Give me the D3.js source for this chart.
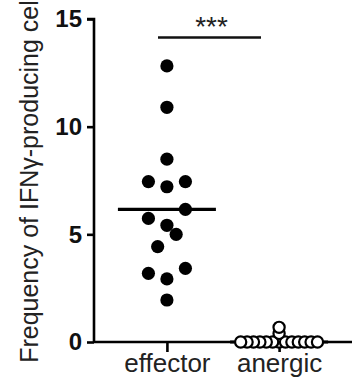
<!DOCTYPE html>
<html>
<head>
<meta charset="utf-8">
<script src="https://cdn.jsdelivr.net/npm/d3@7"></script>
<style>
  html, body { margin: 0; padding: 0; background: #fff; }
  svg { display: block; }
</style>
</head>
<body>
<div id="chart"></div>
<script>
// ---- data ----
const categories = ["effector", "anergic"];
const effectorValues = [12.82, 10.9, 8.49, 7.45, 7.21, 7.45, 6.16, 5.74, 5.42, 5.0, 4.43, 3.42, 3.19, 2.93, 1.95];
const anergicValues = [0, 0, 0, 0, 0, 0, 0, 0, 0, 0, 0, 0, 0, 0.4, 0.68];
const medians = [6.16, 0];
const yTicks = [0, 5, 10, 15];
const yTitle = "Frequency of IFNγ-producing cells";
const sigLabel = "***";

// ---- layout ----
const W = 361, H = 388;
const mLeft = 94, mRight = 352, mTop = 19, mBottom = 342;

const svg = d3.select("#chart").append("svg")
  .attr("width", W).attr("height", H);

const y = d3.scaleLinear().domain([0, 15]).range([mBottom, mTop]);
const x = d3.scalePoint().domain(categories).range([mLeft, mRight]).padding(0.65);

// GraphPad-like column scatter: group close values into rows, spread rows symmetrically
function swarm(values, spacing, bin) {
  const idx = values.map((v, i) => i).sort((a, b) => values[a] - values[b]);
  const off = new Array(values.length).fill(0);
  let g = [];
  const flush = () => {
    const n = g.length;
    const slots = d3.range(n).map(i => (i - (n - 1) / 2) * spacing)
      .sort((a, b) => Math.abs(a) - Math.abs(b) || a - b);
    g.forEach((k, j) => off[k] = slots[j]);
    g = [];
  };
  idx.forEach(k => {
    if (g.length && values[k] - values[g[0]] > bin) flush();
    g.push(k);
  });
  flush();
  return off;
}

const series = [
  { cat: "effector", values: effectorValues, spacing: 18.5, bin: 0.8, filled: true },
  { cat: "anergic", values: anergicValues, spacing: 6.4, bin: 0.25, filled: false }
];

// axes
const yAxis = d3.axisLeft(y).tickValues(yTicks).tickSize(7).tickPadding(5).tickFormat(d3.format("d"));
const gy = svg.append("g").attr("transform", `translate(${mLeft},0)`).call(yAxis);
gy.select(".domain").attr("d", `M-7,${mTop}H0V${mBottom}`);
gy.selectAll("path, line").attr("stroke", "#000").attr("stroke-width", 2.6);
gy.selectAll("text").attr("font-family", "Liberation Sans, Arial, sans-serif")
  .attr("font-weight", "bold").attr("font-size", 24).attr("fill", "#111");

const xAxis = d3.axisBottom(x).tickSize(10).tickPadding(4);
const gx = svg.append("g").attr("transform", `translate(0,${mBottom})`).call(xAxis);
gx.select(".domain").attr("d", `M${mLeft},0H${mRight}`);
gx.selectAll("path, line").attr("stroke", "#000").attr("stroke-width", 2.6);
gx.selectAll("text").attr("font-family", "Liberation Sans, Arial, sans-serif")
  .attr("font-size", 26).attr("fill", "#222").attr("dy", "0.62em");

// y title
svg.append("text")
  .attr("transform", `translate(38,${(mTop + mBottom) / 2 - 8}) rotate(-90)`)
  .attr("text-anchor", "middle")
  .attr("font-family", "Liberation Sans, Arial, sans-serif")
  .attr("font-size", 25).attr("fill", "#222")
  .text(yTitle);

// median lines
svg.selectAll("line.median").data(categories).enter().append("line")
  .attr("class", "median")
  .attr("x1", d => x(d) - 49).attr("x2", d => x(d) + 49)
  .attr("y1", (d, i) => y(medians[i])).attr("y2", (d, i) => y(medians[i]))
  .attr("stroke", "#000").attr("stroke-width", 3.2);

// points
series.forEach(s => {
  const off = swarm(s.values, s.spacing, s.bin);
  svg.append("g").selectAll("circle").data(s.values).enter().append("circle")
    .attr("cx", (d, i) => x(s.cat) + off[i])
    .attr("cy", d => y(d))
    .attr("r", s.filled ? 6.6 : 5.6)
    .attr("fill", s.filled ? "#000" : "#fff")
    .attr("stroke", "#000")
    .attr("stroke-width", s.filled ? 0 : 2.2);
});

// significance bar
const sx1 = 158, sx2 = 261, sy = 37.5;
svg.append("line").attr("x1", sx1).attr("x2", sx2).attr("y1", sy).attr("y2", sy)
  .attr("stroke", "#111").attr("stroke-width", 2.4);
svg.append("text").attr("x", (sx1 + sx2) / 2 + 2).attr("y", sy - 2)
  .attr("text-anchor", "middle")
  .attr("font-family", "Liberation Sans, Arial, sans-serif")
  .attr("font-size", 28).attr("fill", "#222")
  .text(sigLabel);
</script>
</body>
</html>
